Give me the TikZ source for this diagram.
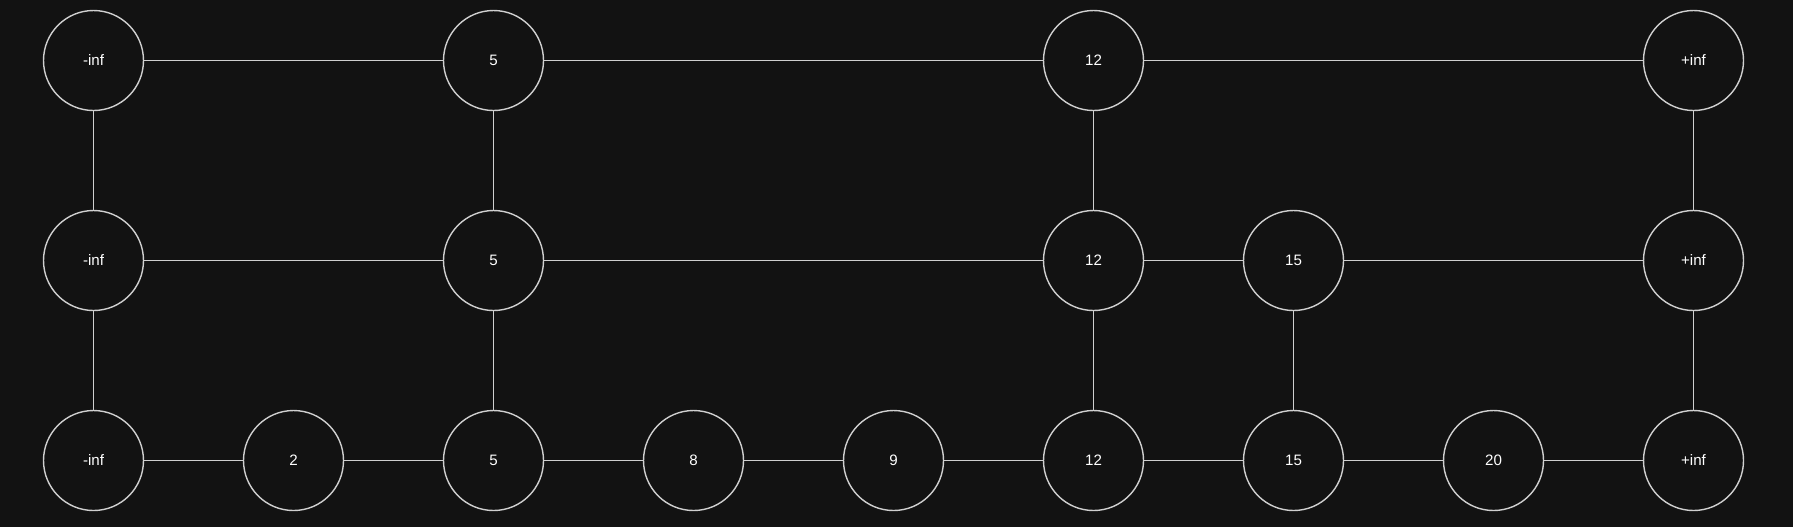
\documentclass[tikz,border=0pt]{standalone}
\usepackage{fontspec}
\setmainfont{Liberation Sans}
\definecolor{bgdark}{HTML}{121212}
\definecolor{linegray}{HTML}{CFCFCF}
\tikzset{
	key/.style={circle, draw=linegray, line width=0.4pt, minimum size=1cm, inner sep=0pt, text=white, font=\fontsize{4.3}{5}\selectfont},
	link/.style={draw=linegray, line width=0.4pt}
}
\begin{document}
\begin{tikzpicture}
		% Background
		\fill[bgdark] (0,0) rectangle (17.93,5.27);
		\useasboundingbox (0,0) rectangle (17.93,5.27);

		% Top level
		\node[key] (t0) at (0.935,4.665) {-inf};
		\node[key] (t2) at (4.935,4.665) {5};
		\node[key] (t5) at (10.935,4.665) {12};
		\node[key] (t8) at (16.935,4.665) {+inf};

		% Middle level
		\node[key] (m0) at (0.935,2.665) {-inf};
		\node[key] (m2) at (4.935,2.665) {5};
		\node[key] (m5) at (10.935,2.665) {12};
		\node[key] (m6) at (12.935,2.665) {15};
		\node[key] (m8) at (16.935,2.665) {+inf};

		% Bottom level
		\node[key] (b0) at (0.935,0.665) {-inf};
		\node[key] (b1) at (2.935,0.665) {2};
		\node[key] (b2) at (4.935,0.665) {5};
		\node[key] (b3) at (6.935,0.665) {8};
		\node[key] (b4) at (8.935,0.665) {9};
		\node[key] (b5) at (10.935,0.665) {12};
		\node[key] (b6) at (12.935,0.665) {15};
		\node[key] (b7) at (14.935,0.665) {20};
		\node[key] (b8) at (16.935,0.665) {+inf};

		% Horizontal links
		\draw[link] (t0) -- (t2) -- (t5) -- (t8);
		\draw[link] (m0) -- (m2) -- (m5) -- (m6) -- (m8);
		\draw[link] (b0) -- (b1) -- (b2) -- (b3) -- (b4) -- (b5) -- (b6) -- (b7) -- (b8);

		% Vertical links
		\draw[link] (t0) -- (m0) -- (b0);
		\draw[link] (t2) -- (m2) -- (b2);
		\draw[link] (t5) -- (m5) -- (b5);
		\draw[link] (m6) -- (b6);
		\draw[link] (t8) -- (m8) -- (b8);
	\end{tikzpicture}
\end{document}
